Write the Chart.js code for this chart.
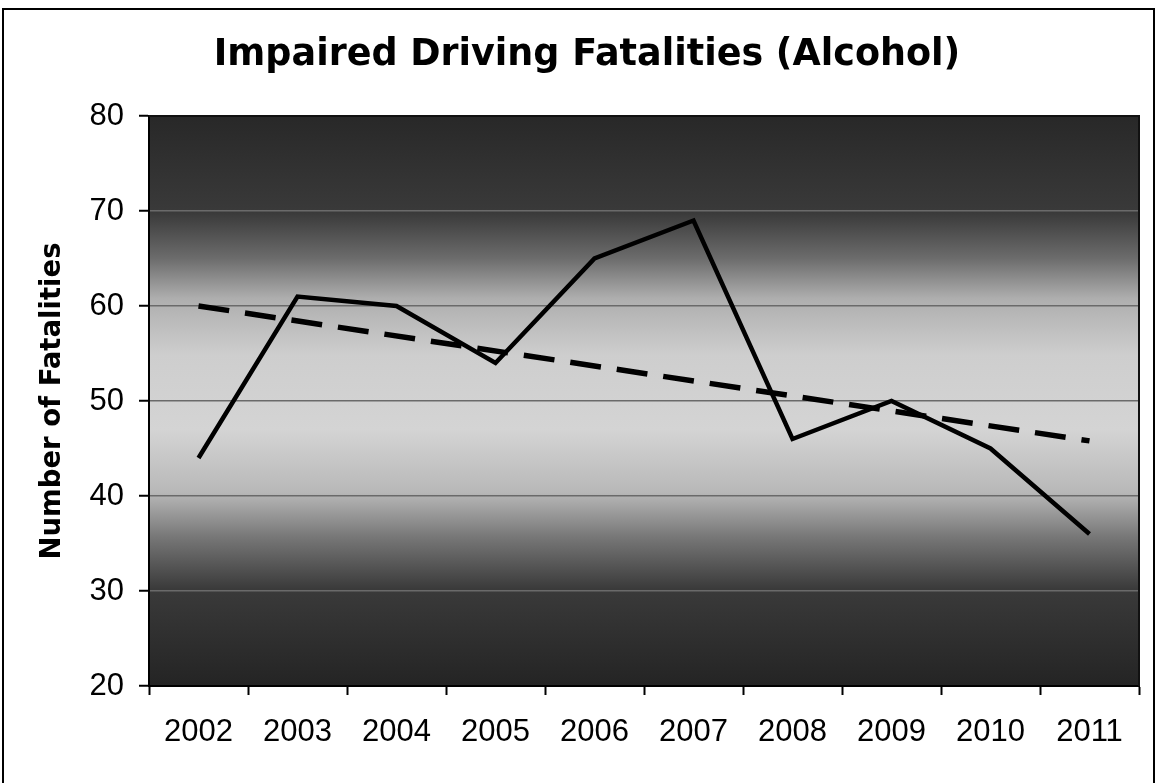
<!DOCTYPE html>
<html>
<head>
<meta charset="utf-8">
<script src="https://cdn.jsdelivr.net/npm/chart.js@4/dist/chart.umd.min.js"></script>
<style>
  html, body { margin: 0; padding: 0; background: #fff; }
  #wrap { width: 1160px; height: 783px; position: relative; }
</style>
</head>
<body>
<div id="wrap"><canvas id="c"></canvas></div>
<script>
const years = ['2002','2003','2004','2005','2006','2007','2008','2009','2010','2011'];
const fatalities = [44, 61, 60, 54, 65, 69, 46, 50, 45, 36];
const trend = [60, null, null, null, null, null, null, null, null, 45.8];
const yTicks = [20, 30, 40, 50, 60, 70, 80];

const FONT = "'Liberation Sans', Arial, sans-serif";
const BOLD = "'DejaVu Sans', 'Liberation Sans', Arial, sans-serif";

const bgPlugin = {
  id: 'bg',
  beforeDraw(chart) {
    const {ctx, chartArea: a} = chart;
    ctx.save();
    ctx.fillStyle = '#fff';
    ctx.fillRect(0, 0, chart.width, chart.height);
    const g = ctx.createLinearGradient(0, a.top, 0, a.bottom);
    g.addColorStop(0.00, '#282828');
    g.addColorStop(0.17, '#3a3a3a');
    g.addColorStop(0.25, '#6c6c6c');
    g.addColorStop(0.32, '#aeaeae');
    g.addColorStop(0.42, '#cecece');
    g.addColorStop(0.55, '#d4d4d4');
    g.addColorStop(0.66, '#b8b8b8');
    g.addColorStop(0.74, '#767676');
    g.addColorStop(0.83, '#3a3a3a');
    g.addColorStop(1.00, '#242424');
    ctx.fillStyle = g;
    ctx.fillRect(a.left, a.top, a.right - a.left, a.bottom - a.top);
    ctx.restore();
  },
  afterDraw(chart) {
    const {ctx, chartArea: a} = chart;
    ctx.save();
    ctx.strokeStyle = '#111';
    ctx.lineWidth = 2;
    ctx.beginPath();
    ctx.moveTo(a.left, a.top);
    ctx.lineTo(a.right, a.top);
    ctx.lineTo(a.right, a.bottom);
    ctx.stroke();
    ctx.strokeStyle = '#000';
    ctx.beginPath();
    ctx.moveTo(3, chart.height);
    ctx.lineTo(3, 9);
    ctx.lineTo(1154, 9);
    ctx.lineTo(1154, chart.height);
    ctx.stroke();
    ctx.restore();
  }
};

new Chart(document.getElementById('c'), {
  type: 'line',
  data: {
    labels: years,
    datasets: [
      {
        label: 'Fatalities',
        data: fatalities,
        borderColor: '#000',
        borderWidth: 4.5,
        pointRadius: 0,
        tension: 0,
        fill: false,
        order: 1
      },
      {
        label: 'Trend',
        data: trend,
        borderColor: '#000',
        borderWidth: 5.5,
        borderDash: [31, 16],
        pointRadius: 0,
        spanGaps: true,
        tension: 0,
        fill: false,
        order: 2
      }
    ]
  },
  plugins: [bgPlugin],
  options: {
    responsive: true,
    maintainAspectRatio: false,
    animation: false,
    layout: { padding: { left: 35, right: 21, top: 0, bottom: 0 } },
    plugins: {
      legend: { display: false },
      tooltip: { enabled: false },
      title: {
        display: true,
        text: 'Impaired Driving Fatalities (Alcohol)',
        color: '#000',
        font: { family: BOLD, size: 36.5, weight: 'bold' },
        padding: { top: 34, bottom: 38.2 }
      }
    },
    scales: {
      x: {
        offset: true,
        grid: { display: true, drawOnChartArea: false, offset: true, tickLength: 9, tickColor: '#000', tickWidth: 2 },
        border: { display: true, color: '#000', width: 2 },
        ticks: { color: '#000', font: { family: FONT, size: 31 }, padding: 19, maxRotation: 0, autoSkip: false },
        afterFit(scale) { scale.height = 97; }
      },
      y: {
        min: 20,
        max: 80,
        afterBuildTicks(scale) { scale.ticks = yTicks.map(v => ({ value: v })); },
        grid: { color: '#6a6a6a', lineWidth: 1.5, tickLength: 10, tickColor: '#000', tickWidth: 2 },
        border: { display: true, color: '#000', width: 2 },
        ticks: { color: '#000', font: { family: FONT, size: 31 }, padding: 15 },
        title: {
          display: true,
          text: 'Number of Fatalities',
          color: '#000',
          font: { family: BOLD, size: 27.5, weight: 'bold' },
          padding: { top: 1, bottom: 0 }
        },
        afterFit(scale) { scale.width = 114; }
      }
    }
  }
});
</script>
</body>
</html>
